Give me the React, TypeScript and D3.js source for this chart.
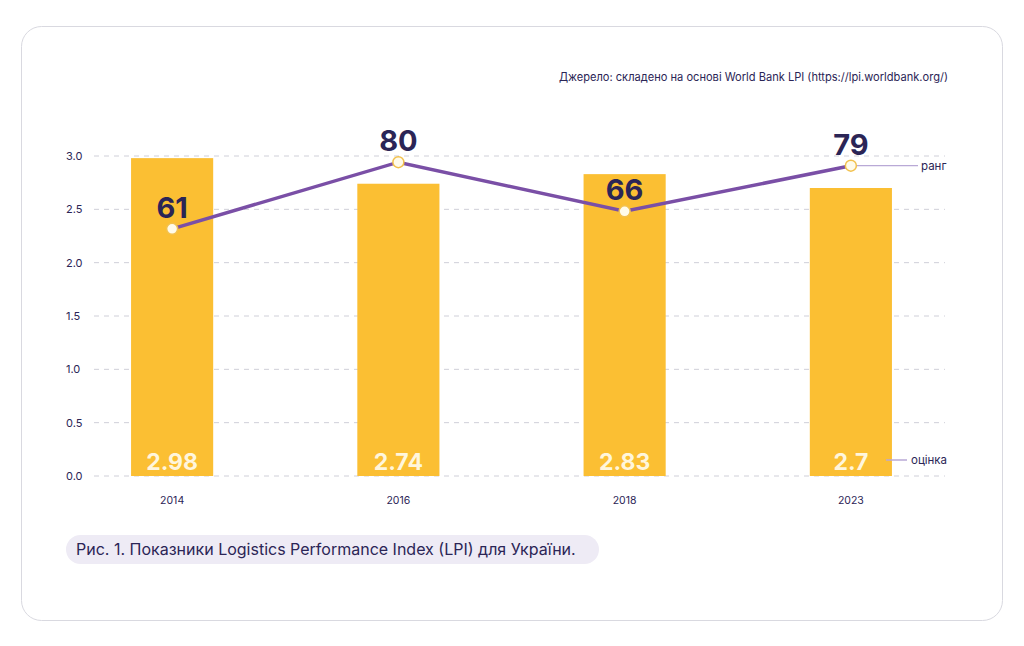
import React from 'react';
import * as d3 from 'd3';

// LPI data for Ukraine
const years = ['2014', '2016', '2018', '2023'];
const scores = [2.98, 2.74, 2.83, 2.7];
const scoreLabels = ['2.98', '2.74', '2.83', '2.7'];
const ranks = [61, 80, 66, 79];
const yTicks = [0, 0.5, 1, 1.5, 2, 2.5, 3];

const W = 1024;
const H = 646;
const NAVY = '#2b2556';
const FONT = 'Inter, "Noto Sans", sans-serif';

export default function App() {
  const x = d3.scaleBand<string>()
    .domain(years)
    .range([59, 964])
    .paddingInner(0.637)
    .paddingOuter(0.3185);

  const y = d3.scaleLinear().domain([0, 3]).range([476, 156]);
  // rank drawn on its own scale, tied to the score axis
  const rankY = d3.scaleLinear().domain([0, 100]).range([y(0.31), y(3.6)]);

  const cx = (yr: string) => (x(yr) ?? 0) + x.bandwidth() / 2;

  const line = d3.line<number>()
    .x((_, i) => cx(years[i]))
    .y(d => rankY(d));

  const lastX = cx(years[years.length - 1]);
  const lastRankY = rankY(ranks[ranks.length - 1]);
  const labelY = y(0) - 16; // score label line, level with the value labels

  return (
    <div style={{ margin: -8 }}>
      <svg width={W} height={H} style={{ display: 'block', fontFamily: FONT }}>
        <rect x={0} y={0} width={W} height={H} fill="#ffffff" />
        <rect x={21.5} y={26.5} width={981} height={594} rx={20} fill="#fff" stroke="#d9d9e0" />

        <text x={948} y={81} textAnchor="end" fontSize={11.1} fill={NAVY}>
          Джерело: складено на основі World Bank LPI (https://lpi.worldbank.org/)
        </text>

        {yTicks.map(t => (
          <g key={t}>
            <line x1={94} x2={945} y1={y(t)} y2={y(t)} stroke="#cfcfd8" strokeDasharray="5 5" />
            <text x={66} y={y(t) + 4} fontSize={11} fill={NAVY}>{t.toFixed(1)}</text>
          </g>
        ))}

        {years.map((yr, i) => (
          <g key={yr}>
            <rect x={x(yr)} y={y(scores[i])} width={x.bandwidth()} height={y(0) - y(scores[i])} fill="#fbbf33" />
            <text x={cx(yr)} y={470} textAnchor="middle" fontSize={23} fontWeight={700} fill="#fff6dc">
              {scoreLabels[i]}
            </text>
            <text x={cx(yr)} y={504} textAnchor="middle" fontSize={10.5} fill={NAVY}>{yr}</text>
          </g>
        ))}

        <line x1={lastX} x2={918} y1={lastRankY} y2={lastRankY} stroke="#b9a9d6" strokeWidth={1.2} />
        <text x={921} y={lastRankY + 4} fontSize={11.5} fill={NAVY}>ранг</text>
        <line x1={886} x2={907} y1={labelY} y2={labelY} stroke="#b9a9d6" strokeWidth={1.5} />
        <text x={911} y={labelY + 4} fontSize={11.5} fill={NAVY}>оцінка</text>

        <path d={line(ranks) ?? ''} fill="none" stroke="#7a4fa6" strokeWidth={3.5} />
        {ranks.map((r, i) => (
          <g key={i}>
            <circle cx={cx(years[i])} cy={rankY(r)} r={5.5} fill="#fffbea" stroke="#f2c14e" strokeWidth={1.5} />
            <text x={cx(years[i])} y={rankY(r) - 11} textAnchor="middle" fontSize={29} fontWeight={700} fill={NAVY}>
              {r}
            </text>
          </g>
        ))}

        <rect x={66} y={535} width={533} height={29} rx={14.5} fill="#eeebf5" />
        <text x={76} y={555} fontSize={16} fill={NAVY}>
          Рис. 1. Показники Logistics Performance Index (LPI) для України.
        </text>
      </svg>
    </div>
  );
}
